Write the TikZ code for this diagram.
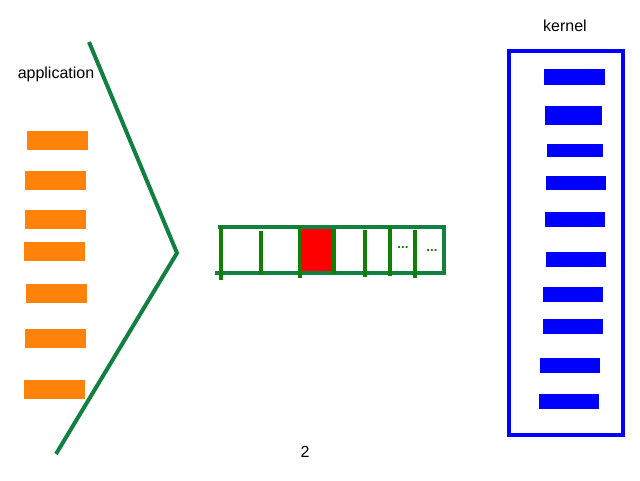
\documentclass[tikz,border=0pt]{standalone}
\usepackage{fontspec}
\setmainfont{Liberation Sans}
\usetikzlibrary{positioning}
\definecolor{appbar}{HTML}{FF820A}
\definecolor{kernbar}{HTML}{0000FF}
\definecolor{funnel}{HTML}{128040}
\definecolor{slot}{HTML}{117F06}
\definecolor{busy}{HTML}{FF0000}

\begin{document}
\begin{tikzpicture}[x=0.75pt, y=-0.75pt,
    label/.style={font=\fontsize{12}{14}\selectfont, inner sep=0pt},
    funnelline/.style={draw=funnel, line width=3pt},
    slotline/.style={draw=slot, line width=3pt},
    dots/.style={font=\normalsize\bfseries, text=slot, inner sep=0pt},
]
\useasboundingbox (0,0) rectangle (640,480);

% Titles
\node[label] (app) at (56,74) {application};
\node[label] (kern) at (565,26) {kernel};
\node[label] (num) at (305,452) {2};

% --- application side ---
\foreach \xa/\xb/\ya/\yb in {27/88/131/150, 25/86/171/190, 25/86/210/229, 24/85/242/261,
                             26/87/284/303, 25/86/329/348, 24/85/380/399}
  \fill[appbar] (\xa,\ya) rectangle (\xb,\yb);

% funnel
\coordinate (ftop) at (89,42);
\coordinate (ftip) at (177,253);
\coordinate (fbot) at (56,454);
\draw[funnelline] (ftop) -- (ftip) -- (fbot);

% --- queue ---
\fill[busy] (302,229) rectangle (333,272);
\draw[funnelline] (215,273) -- (444,273) -- (444,227) -- (218,227);
\draw[slotline] (221,226) -- (221,280);
\draw[slotline, line width=2.5pt] (261,231) -- (261,275);
\draw[slotline] (300,226) -- (300,278);
\draw[slotline, line width=2.5pt] (334,229) -- (334,274);
\draw[slotline] (365,230) -- (365,277);
\draw[slotline] (390,226) -- (390,276);
\draw[slotline] (415,230) -- (415,278);
\node[dots] (d1) at (403,247) {...};
\node[dots] (d2) at (432,250) {...};

% --- kernel side ---
\draw[draw=kernbar, line width=3pt] (509,51) rectangle (623,435);
\foreach \xa/\xb/\ya/\yb in {544/605/69/85, 545/602/106/125, 547/603/144/157, 546/606/176/190,
                             545/605/212/227, 546/606/252/267, 543/603/287/302, 543/603/319/334,
                             540/600/358/373, 539/599/394/409}
  \fill[kernbar] (\xa,\ya) rectangle (\xb,\yb);

\end{tikzpicture}
\end{document}
